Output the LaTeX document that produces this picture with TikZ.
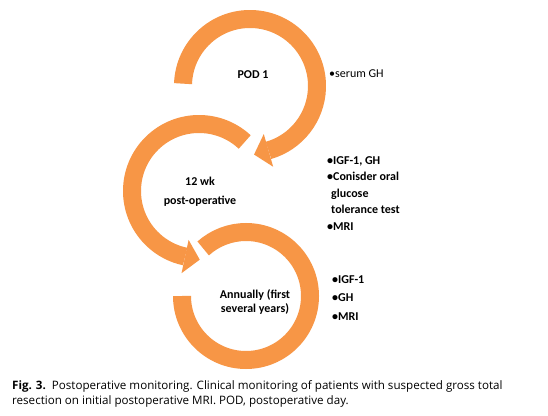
\documentclass[tikz,border=0pt]{standalone}
\usepackage{fontspec}
\setmainfont{Carlito}
\newfontfamily\capfont{Open Sans}
\usetikzlibrary{calc}
\definecolor{ringorange}{HTML}{F79646}
\tikzset{
  ring/.style={draw=ringorange, line width=18pt, line cap=butt},
  head/.style={fill=ringorange, draw=none},
  lbl/.style={font=\fontsize{12}{14}\selectfont\bfseries, align=center, inner sep=0pt},
  lst/.style={font=\fontsize{12}{17}\selectfont, align=left, anchor=west, inner sep=0pt},
  lstb/.style={font=\fontsize{12}{18.5}\selectfont\bfseries, align=left, anchor=west, inner sep=0pt},
  captext/.style={font=\capfont\fontsize{11.6}{15.5}\selectfont, align=left, anchor=north west, inner sep=0pt}
}
\begin{document}
\begin{tikzpicture}[x=1pt,y=1pt]
\useasboundingbox[fill=white] (0,0) rectangle (548,415);
% centres
\coordinate (c1) at (250,329);
\coordinate (c2) at (199,224);
\coordinate (c3) at (246,119);
% ring 1 (clockwise)
\draw[ring] ($(c1)+(178:67)$) arc[start angle=178, end angle=-74, radius=67];
\fill[head] ($(c1)+(-74:50)$) -- ($(c1)+(-74:84)$) -- ($(c1)+(-74:67)+(-164:15)$) -- cycle;
% ring 2 (counter-clockwise)
\draw[ring] ($(c2)+(47:67)$) arc[start angle=47, end angle=258, radius=67];
\fill[head] ($(c2)+(258:50)$) -- ($(c2)+(258:84)$) -- ($(c2)+(258:67)+(348:15)$) -- cycle;
% ring 3
\draw[ring] ($(c3)+(180:64)$) arc[start angle=180, end angle=492, radius=64];
% labels
\node[lbl] (pod) at (253,340) {POD 1};
\node[lbl, font=\fontsize{12}{19}\selectfont\bfseries] (wk) at (200,223) {12 wk\\post-operative};
\node[lbl, font=\fontsize{12}{13.5}\selectfont\bfseries] (ann) at (255,113) {Annually (first\\several years)};
% lists
\node[lst] (l1) at (329,341) {\textbullet serum GH};
\node[lst, font=\fontsize{12}{16.5}\selectfont\bfseries, anchor=north west] (l2) at (327,259) {\textbullet IGF-1, GH\\\textbullet Conisder oral\\\hspace*{4pt}glucose\\\hspace*{4pt}tolerance test\\\textbullet MRI};
\node[lstb, anchor=north west] (l3) at (332,140) {\textbullet IGF-1\\\textbullet GH\\\textbullet MRI};
% caption
\node[captext] (caption) at (12,35) {{\bfseries Fig. 3.}\ \ Postoperative monitoring. Clinical monitoring of patients with suspected gross total\\resection on initial postoperative MRI. POD, postoperative day.};
\end{tikzpicture}
\end{document}
